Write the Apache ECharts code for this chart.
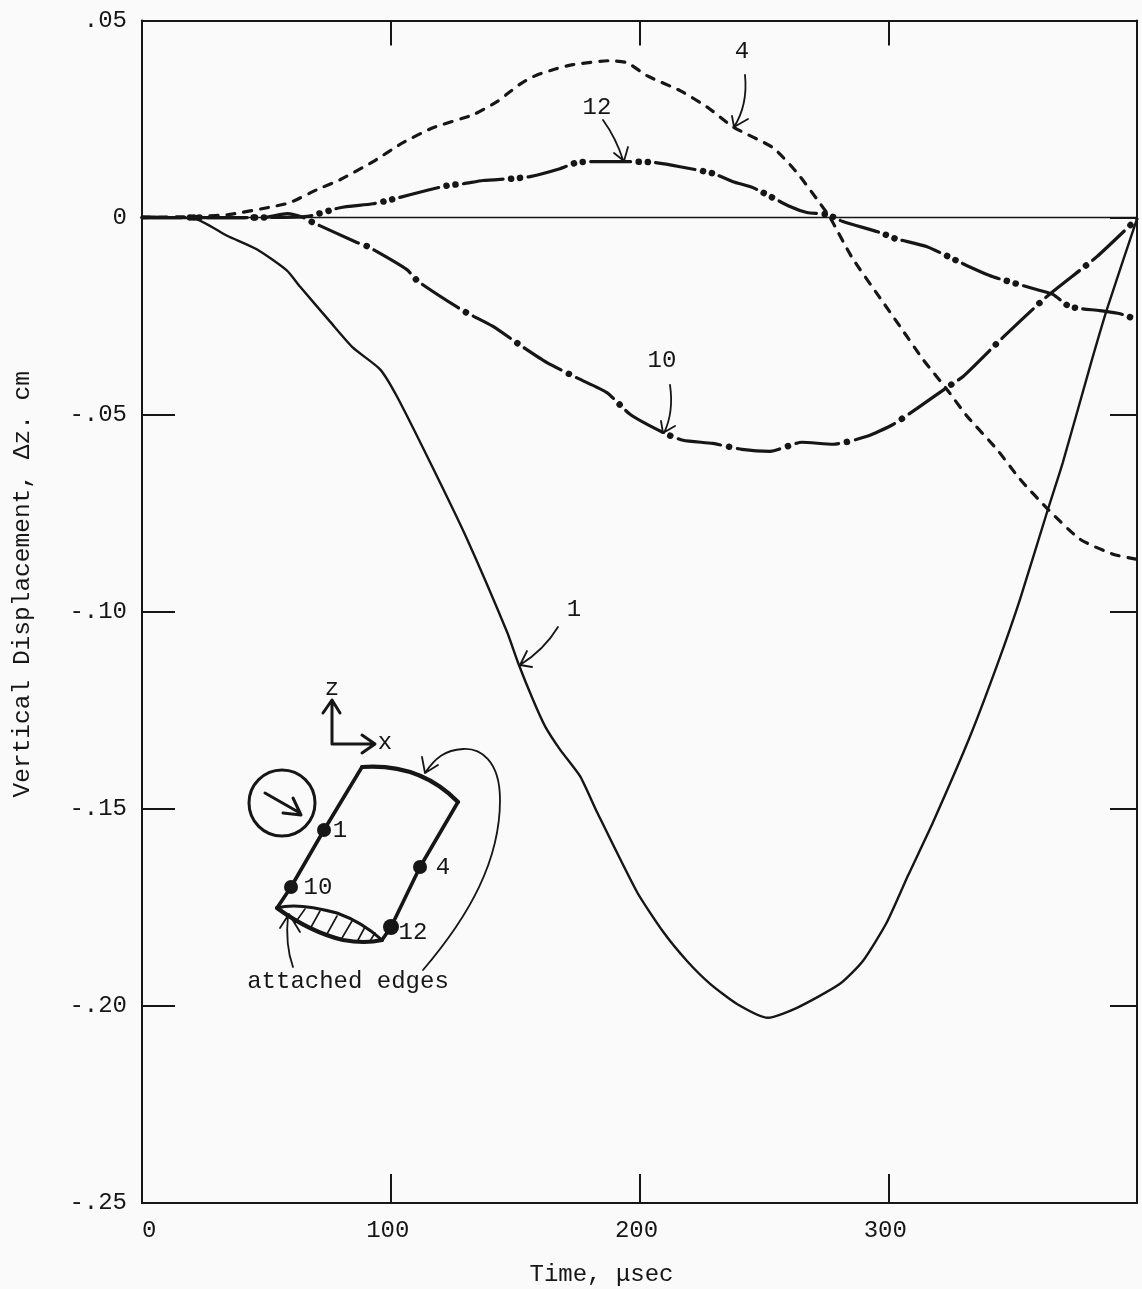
<!DOCTYPE html>
<html>
<head>
<meta charset="utf-8">
<style>html,body{margin:0;padding:0;background:#fafafa}#c{width:1142px;height:1289px}</style>
<script src="https://cdn.jsdelivr.net/npm/echarts@6/dist/echarts.min.js"></script>
</head>
<body>
<div id="c"></div>
<script>
const xTickLabels = ['0', '100', '200', '300', ''];
const yTickLabels = ['-.25', '-.20', '-.15', '-.10', '-.05', '0', '.05'];
const zeroLine = [[0, 0], [400, 0]];

const point1 = [[0,.0003],[22.1,-.0005],[34.2,-.0046],[46.3,-.0081],[58.2,-.0134],[63.5,-.0175],[75.6,-.0264],[84.8,-.033],[95.7,-.0385],[102.5,-.0454],[116.6,-.0631],[130.7,-.0816],[146.8,-.1052],[151.1,-.1128],[157.1,-.1222],[162,-.129],[168,-.1349],[176.1,-.1417],[182.9,-.1508],[199,-.1711],[209.5,-.1812],[219.1,-.1886],[228.4,-.1944],[239.2,-.1995],[251.6,-.203],[263.3,-.2005],[280.6,-.1944],[289.8,-.1886],[299.5,-.1787],[307.9,-.167],[318,-.1534],[332.9,-.1316],[344.2,-.1128],[353,-.0968],[364.2,-.074],[370.2,-.0621],[381.1,-.0378],[387.9,-.0233],[400,-.0003]];

const point4 = [[0,0],[23.4,.0003],[35.4,.0008],[52.7,.0028],[59.5,.0038],[70.4,.0071],[79.6,.0096],[92.9,.0142],[104.9,.019],[117,.0228],[133.1,.0261],[142.7,.0294],[147.9,.0319],[152.8,.0342],[158.8,.0362],[166.8,.0378],[173.3,.0388],[188.1,.0398],[195,.0393],[203,.036],[216.3,.0322],[227.1,.0281],[237.6,.023],[253.7,.0177],[263.3,.0114],[271.4,.0046],[276.6,0],[285.4,-.0101],[296.6,-.0203],[304.7,-.0276],[314,-.036],[323.6,-.0436],[331.7,-.0504],[343.7,-.0588],[353,-.0664],[364.2,-.074],[377.1,-.0816],[390.4,-.0854],[400,-.0867]];

const point12 = [[0,0],[43.5,0],[66.4,.0003],[79.6,.0025],[92.9,.0035],[100.5,.0046],[107.7,.0058],[122.6,.0081],[129.4,.0086],[137.1,.0094],[149.1,.0099],[156,.0104],[168,.0124],[174.9,.014],[182.9,.0142],[193.4,.0142],[205.4,.014],[216.3,.0129],[229.5,.0112],[237.6,.0091],[245.6,.0076],[260.5,.0028],[267.3,.0013],[275.4,.0008],[281.8,-.001],[296.7,-.0038],[302.7,-.0053],[315.6,-.0074],[331.7,-.0122],[342.1,-.015],[361,-.0185],[366.2,-.0195],[373,-.0226],[385.1,-.0236],[393.2,-.0244],[400,-.0259]];

const point10 = [[0,0],[35.4,0],[48.7,0],[58.4,.001],[64.9,0],[68.9,-.0013],[86.4,-.0063],[90.9,-.0074],[106.5,-.0132],[111,-.0162],[129,-.0236],[141.1,-.0276],[152.8,-.0327],[162.8,-.0368],[175.3,-.0408],[186.9,-.0444],[196.2,-.0499],[209.4,-.0545],[217.5,-.0565],[229.5,-.0573],[241.2,-.0588],[252.5,-.0593],[265.3,-.057],[277.8,-.0575],[291.5,-.0555],[301.9,-.0525],[311.6,-.0484],[323.6,-.0431],[330.1,-.0403],[346.1,-.0304],[363.8,-.02],[383.9,-.0099],[400,-.0003]];

const INK = '#161616';
const FONT = '"Liberation Mono", monospace';
const chart = echarts.init(document.getElementById('c'));

function curve(name, data, width, dash, offset) {
  return {
    name, type: 'line', data, xAxisIndex: 0, yAxisIndex: 0, symbol: 'none', smooth: 0.2,
    lineStyle: { color: INK, width, type: dash || 'solid', dashOffset: offset || 0, cap: 'round' }, z: 3
  };
}
function ink(d, w) {
  return { type: 'path', shape: { pathData: d }, silent: true,
    style: { stroke: INK, lineWidth: w || 2, fill: null, lineCap: 'round', lineJoin: 'round' } };
}
function txt(text, x, y) {
  return { type: 'text', silent: true, z: 51,
    style: { text, x, y, font: '24px ' + FONT, fill: INK, textAlign: 'center', textVerticalAlign: 'middle' } };
}

const sketch = [
  // curve call-outs
  ink('M745,75 Q748,105 734,127 M732,116 L734,127 L748,119', 1.8),
  ink('M603,120 Q616,138 623,160 M614,153 L624,161 L628,147', 1.8),
  ink('M670,385 Q674,412 664,433 M661,421 L663,433 L675,426', 1.8),
  ink('M558,627 Q544,650 520,665 M527,651 L520,665 L532,667', 1.8),
  // inset: axes
  ink('M332,744 L332,702 M323,713 L332,700 L340,713 M332,744 L373,744 M362,735 L375,744 L362,753', 3),
  // inset: direction arrow
  ink('M265,793 L300,813 M283,813 L301,815 L293,798', 3),
  // inset: plate outline
  ink('M277,908 L291,887 L324,830 L362,767', 3.6),
  ink('M362,767 Q420,763 458,802', 4.2),
  ink('M458,802 L420,867 L391,927 L382,940', 3.6),
  ink('M277,908 Q297,902 337,913 Q362,922 382,940', 3),
  ink('M277,908 Q310,932 343,940 Q365,944 382,940', 4.2),
  ink('M295,923 L305,909 M310,929 L320,911 M327,934 L337,916 M342,938 L352,921 M358,940 L365,927 M370,941 L375,933', 1.6),
  // inset: attached-edge leaders
  ink('M293,967 Q285,945 288,915 M280,928 L289,914 L300,932', 1.8),
  ink('M423,970 C470,915 500,860 500,800 C500,760 480,748 463,749 C445,750 435,758 425,773 M422,757 L425,773 L438,765', 1.8)
];

const commonAxis = (extra) => Object.assign({
  axisLine: { show: true, onZero: false, lineStyle: { color: INK, width: 2 } },
  splitLine: { show: false },
  minorTick: { show: false }
}, extra);

const xBase = { type: 'value', min: 0, max: 400, interval: 100 };
const yBase = { type: 'value', min: -0.25, max: 0.05, interval: 0.05 };

chart.setOption({
  animation: false,
  backgroundColor: '#fafafa',
  grid: { left: 142, right: 5, top: 20.5, bottom: 86, containLabel: false, outerBoundsMode: 'none' },
  xAxis: [
    commonAxis(Object.assign({}, xBase, {
      position: 'bottom',
      name: 'Time, μsec', nameLocation: 'middle', nameGap: 60,
      nameTextStyle: { color: INK, fontFamily: FONT, fontSize: 24, padding: [0, 76, 0, 0] },
      axisTick: { show: true, inside: true, length: 29, lineStyle: { color: INK, width: 2 } },
      axisLabel: { show: true, margin: 16, color: INK, fontFamily: FONT, fontSize: 24, alignMinLabel: 'left',
        padding: [0, 6, 0, 0], formatter: (v, i) => xTickLabels[i] }
    })),
    commonAxis(Object.assign({}, xBase, {
      position: 'top',
      axisTick: { show: true, inside: true, length: 25, lineStyle: { color: INK, width: 2 } },
      axisLabel: { show: false }
    }))
  ],
  yAxis: [
    commonAxis(Object.assign({}, yBase, {
      position: 'left',
      name: 'Vertical Displacement, Δz. cm', nameLocation: 'middle', nameGap: 107,
      nameTextStyle: { color: INK, fontFamily: FONT, fontSize: 24.5, padding: [0, 0, 0, 55] },
      axisTick: { show: true, inside: true, length: 33, lineStyle: { color: INK, width: 2 } },
      axisLabel: { show: true, margin: 15, color: INK, fontFamily: FONT, fontSize: 24,
        formatter: (v, i) => yTickLabels[i] }
    })),
    commonAxis(Object.assign({}, yBase, {
      position: 'right',
      axisTick: { show: true, inside: true, length: 27, lineStyle: { color: INK, width: 2 } },
      axisLabel: { show: false }
    }))
  ],
  series: [
    { name: 'zero', type: 'line', data: zeroLine, symbol: 'none', lineStyle: { color: INK, width: 1.5 }, z: 2 },
    curve('1', point1, 2.4),
    curve('4', point4, 3.2, [8, 9]),
    curve('10', point10, 3.2, [43, 17, 0, 0]),
    curve('10 dots', point10, 6.5, [0.1, 59.9], -51.5),
    curve('12', point12, 3.2, [40, 25, 0, 0]),
    curve('12 dots', point12, 6.5, [0.1, 9, 0.1, 55.8], -48),
    { name: 'sketch', type: 'custom', data: [[0, 0]], silent: true, z: 10, clip: false,
      renderItem: () => ({ type: 'group', children: sketch }) }
  ],
  graphic: [
    txt('4', 742, 52), txt('12', 597, 108), txt('10', 662, 361), txt('1', 574, 610),
    txt('z', 332, 689), txt('x', 385, 743),
    { type: 'circle', shape: { cx: 282, cy: 803, r: 33 }, silent: true, z: 50,
      style: { stroke: INK, lineWidth: 3, fill: null } },
    { type: 'circle', shape: { cx: 324, cy: 830, r: 7 }, silent: true, z: 52, style: { fill: INK } },
    { type: 'circle', shape: { cx: 291, cy: 887, r: 7 }, silent: true, z: 52, style: { fill: INK } },
    { type: 'circle', shape: { cx: 420, cy: 867, r: 7 }, silent: true, z: 52, style: { fill: INK } },
    { type: 'circle', shape: { cx: 391, cy: 927, r: 8 }, silent: true, z: 52, style: { fill: INK } },
    txt('1', 340, 831), txt('10', 318, 888), txt('4', 443, 868), txt('12', 413, 933),
    txt('attached edges', 348, 982)
  ]
});
</script>
</body>
</html>
